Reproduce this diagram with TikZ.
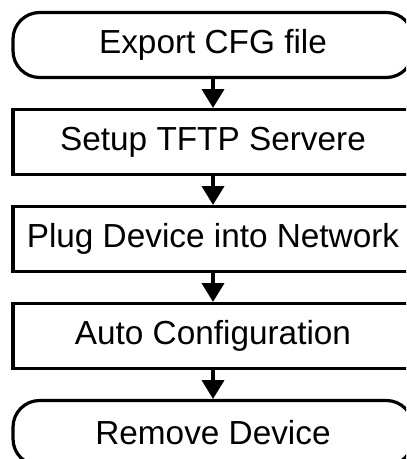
\documentclass[tikz,border=0pt]{standalone}
\usepackage{fontspec}
\setmainfont{Liberation Sans}
\usetikzlibrary{arrows.meta}

\tikzstyle{proc} = [draw=black,line width=2.4pt,rectangle,minimum width=300pt,minimum height=48.75pt,font=\fontsize{25}{30}\selectfont,text centered]
\tikzstyle{term} = [proc,rounded corners=20pt]

\begin{document}
\begin{tikzpicture}[node distance=72.75pt,>={Triangle[length=14pt,width=16.5pt]},line width=2.4pt]
	\clip (0,0) rectangle (304.5pt,-344.25pt);
	\node (export) [term] at (159.75pt,-33.75pt) {Export CFG file};
	\node (tftp) [proc,below of=export] {Setup TFTP Servere};
	\node (plug) [proc,below of=tftp] {Plug Device into Network};
	\node (autocfg) [proc,below of=plug] {Auto Configuration};
	\node (remove) [term,below of=autocfg] {Remove Device};
	\draw [->] (export) -- (tftp);
	\draw [->] (tftp) -- (plug);
	\draw [->] (plug) -- (autocfg);
	\draw [->] (autocfg) -- (remove);
\end{tikzpicture}
\end{document}
